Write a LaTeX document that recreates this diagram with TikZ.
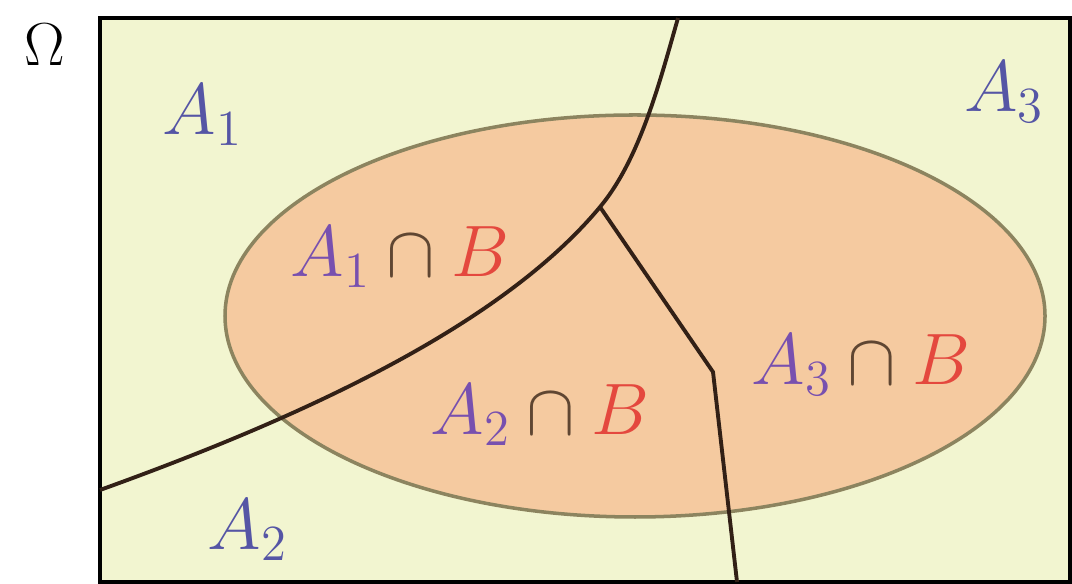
\documentclass[tikz,border=0pt]{standalone}
\usepackage{amsmath,amssymb}
\usepackage{tikz}
\usepackage{xcolor}
\definecolor{omegabg}{RGB}{242,245,208}
\definecolor{bfill}{RGB}{245,202,160}
\definecolor{bedge}{RGB}{140,132,95}
\definecolor{setblue}{RGB}{85,85,165}
\definecolor{setpurple}{RGB}{120,80,175}
\definecolor{setred}{RGB}{228,72,62}
\definecolor{capbrown}{RGB}{95,70,50}
\definecolor{cutline}{RGB}{50,32,22}

\begin{document}
\begin{tikzpicture}[every node/.style={font=\fontsize{22}{26}\selectfont, inner sep=0pt},
  part/.style={cutline, line width=1.1pt},
  evlabel/.style={text=setblue},
  cutlabel/.style={text=capbrown}]
\useasboundingbox (0,0) rectangle (10.72,5.84);
% 1. sample space
\draw[line width=1.3pt, fill=omegabg] (1.00,0.02) rectangle (10.70,5.66);
\node (omega) at (0.45,5.39) {\fontsize{18}{21}\selectfont$\Omega$};

% 2. event B
\draw[bedge, line width=1pt, fill=bfill] (6.35,2.68) ellipse (4.10 and 2.01);

% 3. partition A1, A2, A3
\coordinate (left) at (1.00,0.94);
\coordinate (fork) at (6.00,3.77);
\coordinate (top) at (6.78,5.66);
\coordinate (bottom) at (7.37,0.02);
\draw[part] (left) .. controls (3.00,1.66) and (5.00,2.57) .. (fork)
  .. controls (6.40,4.25) and (6.60,5.03) .. (top);
\draw[part] (fork) -- (7.13,2.12) -- (bottom);

% 4. labels
\node[evlabel] (a1) at (2.03,4.69) {$A_1$};
\node[evlabel] (a2) at (2.48,0.54) {$A_2$};
\node[evlabel] (a3) at (10.04,4.92) {$A_3$};
\node[cutlabel] (a1b) at (4.00,3.27) {$\textcolor{setpurple}{A_1}\cap\textcolor{setred}{B}$};
\node[cutlabel] (a2b) at (5.40,1.69) {$\textcolor{setpurple}{A_2}\cap\textcolor{setred}{B}$};
\node[cutlabel] (a3b) at (8.61,2.19) {$\textcolor{setpurple}{A_3}\cap\textcolor{setred}{B}$};
\end{tikzpicture}
\end{document}
